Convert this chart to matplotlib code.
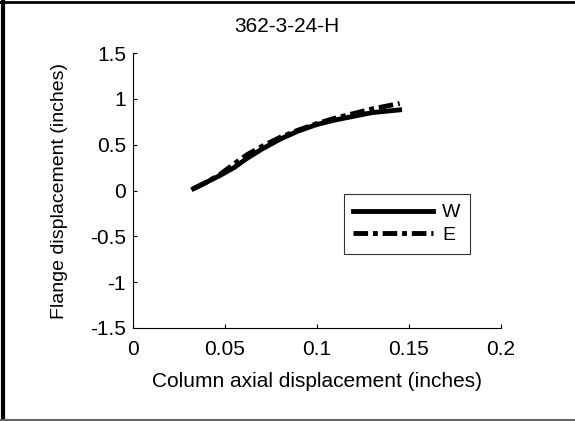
import matplotlib
matplotlib.use("Agg")
from matplotlib import pyplot as plt
from matplotlib.lines import Line2D

plt.rcParams['font.family'] = ['Liberation Sans', 'DejaVu Sans']

# datos
x_w = [0.033, 0.040, 0.047, 0.055, 0.062, 0.070, 0.080, 0.090, 0.100, 0.110, 0.120, 0.130, 0.140, 0.145]
y_w = [0.02, 0.09, 0.16, 0.25, 0.35, 0.45, 0.56, 0.65, 0.72, 0.77, 0.81, 0.85, 0.87, 0.88]
x_e = [0.033, 0.040, 0.047, 0.055, 0.062, 0.070, 0.080, 0.090, 0.100, 0.110, 0.120, 0.130, 0.140, 0.145]
y_e = [0.02, 0.09, 0.17, 0.29, 0.39, 0.48, 0.58, 0.66, 0.73, 0.79, 0.84, 0.89, 0.93, 0.95]

xticks = [0, 0.05, 0.1, 0.15, 0.2]
xtick_labels = ["0", "0.05", "0.1", "0.15", "0.2"]
yticks = [-1.5, -1, -0.5, 0, 0.5, 1, 1.5]
ytick_labels = ["-1.5", "-1", "-0.5", "0", "0.5", "1", "1.5"]

fig = plt.figure(figsize=(5.75, 4.21), dpi=100)
ax = fig.add_axes([0.231, 0.221, 0.640, 0.653])

ax.plot(x_w, y_w, color="black", linewidth=3.5, label="W")
ax.plot(x_e, y_e, color="black", linewidth=3.5, linestyle=(0, (3, 1, 1, 1)), label="E")

ax.set_xlim(0, 0.2)
ax.set_ylim(-1.5, 1.5)
ax.set_xticks(xticks)
ax.set_xticklabels(xtick_labels)
ax.set_yticks(yticks)
ax.set_yticklabels(ytick_labels)
ax.tick_params(direction="in", length=3, labelsize=15, width=0.8)
ax.tick_params(axis="x", pad=9)
ax.tick_params(axis="y", pad=5)
ax.spines["top"].set_visible(False)
ax.spines["right"].set_visible(False)

ax.set_xlabel("Column axial displacement (inches)", fontsize=15, labelpad=9)
ax.set_ylabel("Flange displacement (inches)", fontsize=14, labelpad=16)
fig.text(287 / 575, 1 - 26 / 421, "362-3-24-H", ha="center", va="center", fontsize=15)

leg = ax.legend(loc="upper left", bbox_to_anchor=(0.573, 0.487), frameon=True, fancybox=False,
                edgecolor="black", fontsize=14, handlelength=4.1, handletextpad=0.45,
                borderpad=0.5, labelspacing=0.25, borderaxespad=0)
leg.get_frame().set_linewidth(0.8)

# marco de la figura
fig.add_artist(Line2D([0.006, 0.006], [0.0, 0.995], transform=fig.transFigure, color="black", linewidth=3))
fig.add_artist(Line2D([0.0, 1.0], [0.995, 0.995], transform=fig.transFigure, color="black", linewidth=2))
fig.add_artist(Line2D([0.0, 1.0], [0.003, 0.003], transform=fig.transFigure, color="0.4", linewidth=1.5))

fig.savefig("out.png", dpi=100)
